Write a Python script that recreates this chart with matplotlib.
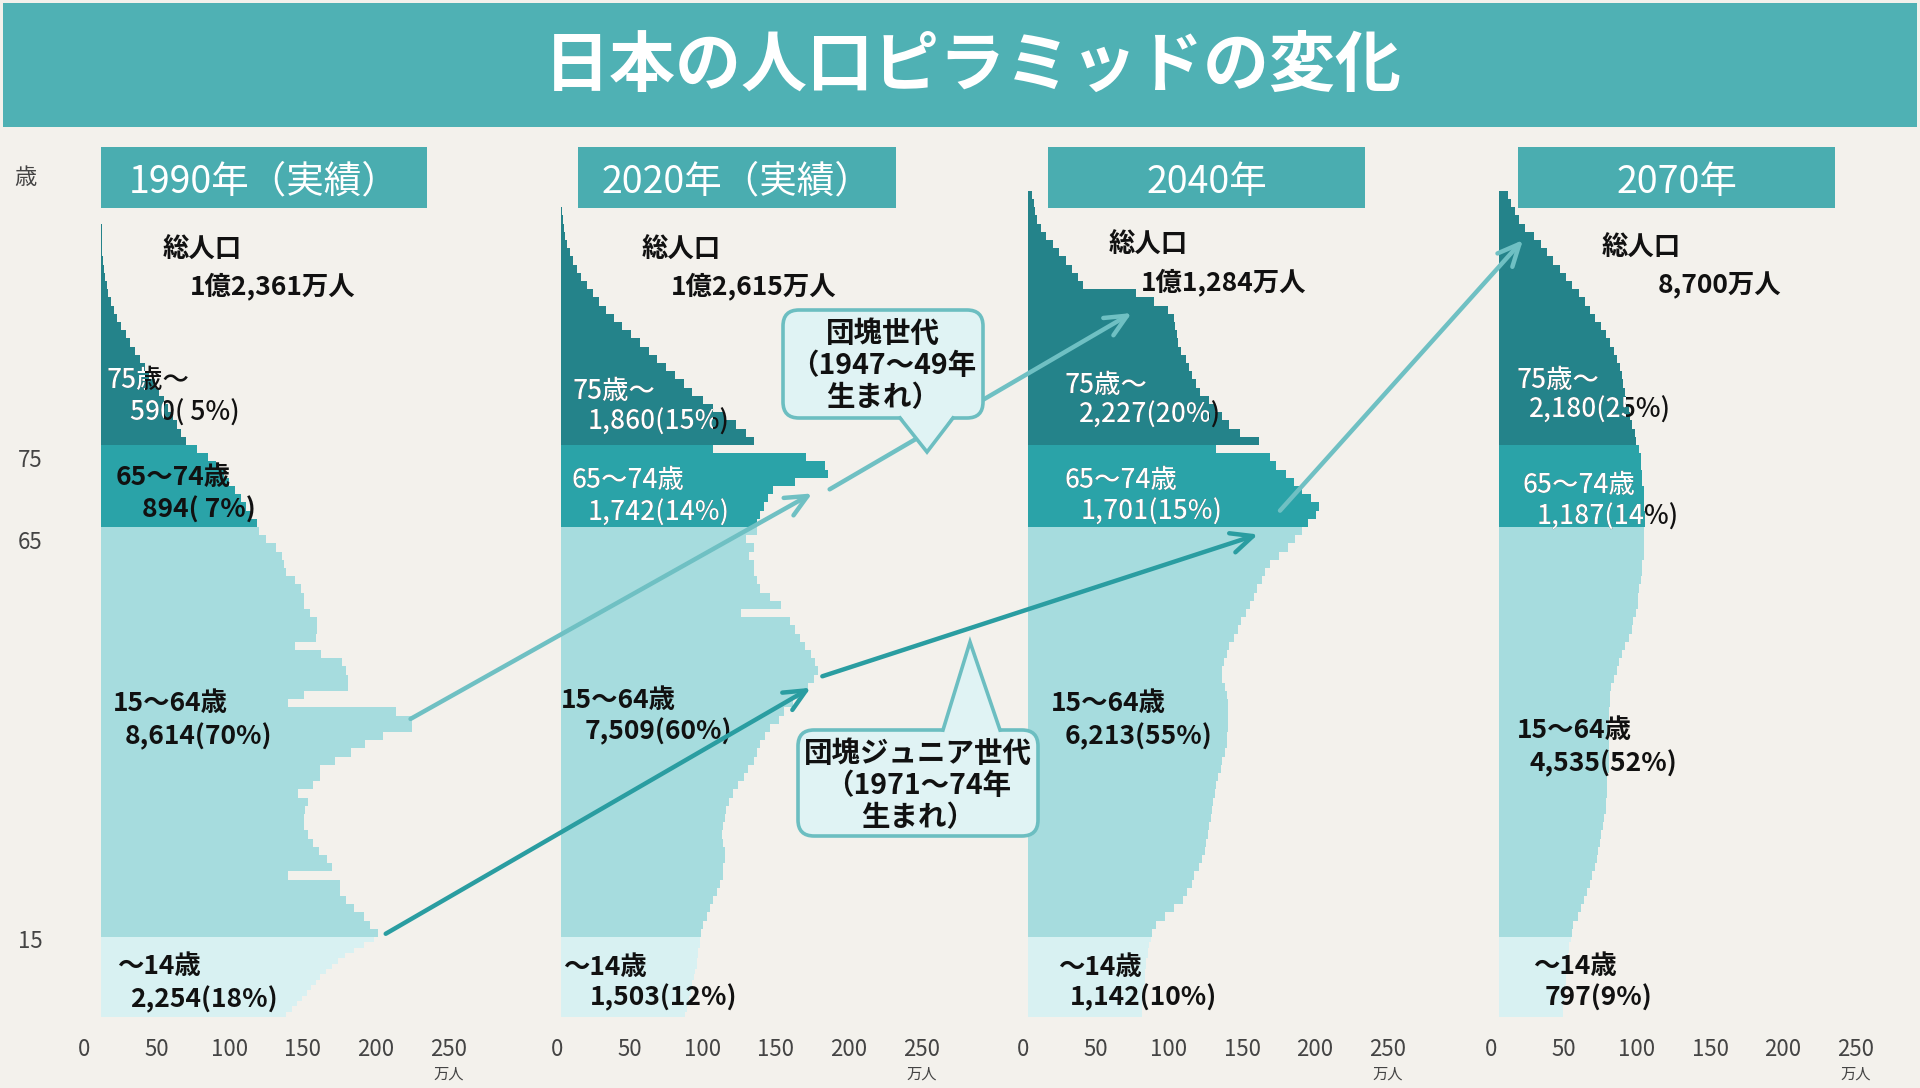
import numpy as np
import matplotlib
matplotlib.use('Agg')
import matplotlib.pyplot as plt
from matplotlib.patches import Rectangle, FancyBboxPatch, Polygon, ConnectionPatch
from matplotlib.transforms import Bbox, TransformedBbox, ScaledTranslation

plt.rcParams['font.family'] = ['Noto Sans CJK JP', 'DejaVu Sans']

# population by single year of age (万人), age 0 upward
pop_1990 = [127, 131, 134, 138, 141, 144, 147, 150, 154, 158, 162, 167, 173, 180, 187,
            190, 184, 180, 173, 168, 164, 164, 128, 158, 155,
            149, 145, 142, 139, 139, 140, 142, 135, 145, 150,
            150, 160, 171, 181, 193, 213, 213, 202, 128, 139,
            169, 169, 168, 165, 151, 133, 147, 148, 148, 143,
            139, 139, 137, 133, 127, 125, 124, 120, 113, 108,
            107, 103, 99, 96, 92, 88, 84, 79, 73, 66,
            58, 55, 52, 49, 46, 43, 40, 37, 33, 30, 27, 23, 20, 17, 14, 11, 9, 7, 5, 4,
            3, 2, 1.5, 1, 0.8, 0.6, 0.4]
pop_2020 = [85, 86, 87, 88, 89, 90, 90, 91, 92, 93, 93, 94, 94, 95, 95,
            96, 97, 100, 102, 104, 107, 109, 111, 111, 112,
            112, 111, 110, 111, 112, 113, 115, 118, 121, 125,
            128, 132, 134, 136, 140, 143, 149, 153, 159, 165,
            169, 173, 176, 174, 171, 167, 164, 160, 157, 123,
            151, 143, 136, 134, 132, 132, 129, 132, 127, 134,
            134, 136, 139, 142, 145, 160, 183, 181, 168, 104,
            132, 127, 120, 112, 104, 97, 90, 84, 78, 72, 66, 60, 54, 48, 42, 36, 31, 26, 22, 18,
            14, 11, 8, 6, 4, 3, 2, 1.5, 1]
pop_2040 = [78, 78, 78, 79, 79, 79, 80, 80, 80, 81, 81, 82, 82, 83, 84,
            85, 88, 94, 100, 106, 109, 112, 114, 117, 119,
            121, 122, 123, 124, 125, 126, 127, 128, 129, 130,
            132, 133, 135, 136, 136, 137, 137, 137, 137, 136,
            135, 133, 133, 134, 136, 138, 141, 144, 146, 149,
            152, 155, 157, 160, 162, 166, 172, 178, 183, 188,
            192, 197, 199, 194, 188, 182, 177, 170, 166, 129,
            158, 145, 138, 133, 128, 124, 118, 115, 112, 110, 108, 105, 103, 102, 101, 100,
            96, 86, 74, 38, 34, 30, 26, 21, 17, 12, 9, 6, 5, 4, 3]
pop_2070 = [44, 44, 44, 45, 45, 45, 46, 46, 46, 47, 47, 47, 48, 48, 49,
            50, 51, 54, 56, 58, 60, 62, 64, 66, 67,
            68, 69, 70, 71, 72, 73, 73, 74, 74, 74,
            75, 75, 75, 75, 75, 75, 75, 75, 76, 76,
            77, 79, 81, 82, 84, 86, 89, 91, 92, 94,
            95, 95, 96, 97, 98, 98, 99, 99, 99, 99,
            100, 100, 99, 99, 99, 98, 98, 97, 97, 96,
            94, 93, 91, 90, 89, 87, 86, 85, 84, 83, 81, 79, 76, 73, 70, 66, 62, 59, 55, 50,
            46, 42, 37, 33, 29, 24, 18, 14, 11, 8, 6]
populations = [pop_1990, pop_2020, pop_2040, pop_2070]

headers = ['1990年（実績）', '2020年（実績）', '2040年', '2070年']
totals = ['1億2,361万人', '1億2,615万人', '1億1,284万人', '8,700万人']
lbl_75 = ['590( 5%)', '1,860(15%)', '2,227(20%)', '2,180(25%)']
lbl_65 = ['894( 7%)', '1,742(14%)', '1,701(15%)', '1,187(14%)']
lbl_15 = ['8,614(70%)', '7,509(60%)', '6,213(55%)', '4,535(52%)']
lbl_0 = ['2,254(18%)', '1,503(12%)', '1,142(10%)', '797(9%)']
age_groups = ['75歳～', '65～74歳', '15～64歳', '～14歳']
x_ticks = [0, 50, 100, 150, 200, 250]
y_ticks = [15, 65, 75]

# colours
BG = '#F3F1EC'
BANNER = '#4FB1B4'
C75, C65, C15, C0 = '#24838A', '#2AA3A8', '#A6DCDE', '#D8F1F2'
ARROW_LIGHT, ARROW_DARK = '#6FC0C3', '#2A9DA1'
CALL_FILL, CALL_EDGE = '#E0F3F4', '#6CBEC1'

# layout (pixels)
W, H = 1920, 1088
base_px = [101, 561, 1028, 1499]
px_per_unit = 1.46
px_per_age = 8.2
bottom_px = 1017
XMAX, YMAX = 265, 107
tick_shift = [-17, -4, -5, -8]
ytick_shift = [-2, -13, -13]


def fwd(a):
    a = np.asarray(a, dtype=float)
    return np.where(a < 15, a * 0.65, a - 5.25)


def inv(t):
    t = np.asarray(t, dtype=float)
    return np.where(t < 9.75, t / 0.65, t + 5.25)


# text positions per panel: (x in 万人, age)
pos_total = [[(42, 98.8), (61, 94.3)], [(55, 98.8), (75, 94.3)],
             [(55, 99.4), (77, 94.8)], [(70, 99.0), (109, 94.5)]]
pos_75 = [[(4, 82.9), (20, 78.9)], [(8, 81.5), (18, 77.8)],
          [(25, 82.3), (34, 78.7)], [(12, 82.9), (20, 79.3)]]
pos_65 = [[(10, 71.0), (28, 67.1)], [(7.5, 70.7), (18, 66.7)],
          [(25, 70.7), (36, 66.8)], [(16, 70.1), (26, 66.2)]]
pos_15 = [[(8, 43.5), (16, 39.4)], [(0, 43.9), (16.5, 40.0)],
          [(16, 43.5), (25, 39.4)], [(12, 40.2), (21, 36.2)]]
pos_0 = [[(11, 9.4), (20, 3.2)], [(1.4, 9.2), (20, 3.6)],
         [(20.5, 9.2), (29, 3.6)], [(23, 9.4), (31.5, 3.6)]]

fig = plt.figure(figsize=(W / 100, H / 100), dpi=100, facecolor=BG)

axes = []
for i, vals in enumerate(populations):
    ax = fig.add_axes([base_px[i] / W, (H - bottom_px) / H,
                       XMAX * px_per_unit / W,
                       float(fwd(YMAX)) * px_per_age / H])
    ax.set_yscale('function', functions=(fwd, inv))
    ax.set_facecolor('none')
    ages = np.arange(len(vals))
    colors = [C75 if a >= 75 else C65 if a >= 65 else C15 if a >= 15 else C0 for a in ages]
    ax.barh(ages, vals, height=1.0, align='edge', color=colors, linewidth=0)
    ax.set_xlim(0, XMAX)
    ax.set_ylim(0, YMAX)
    for s in ax.spines.values():
        s.set_visible(False)
    ax.set_xticks(x_ticks)
    ax.set_xticklabels([str(t) for t in x_ticks])
    ax.tick_params(axis='x', length=0, pad=15, labelsize=16, labelcolor='#444444')
    shift = ScaledTranslation(tick_shift[i] / 100, 0, fig.dpi_scale_trans)
    for lab in ax.get_xticklabels():
        lab.set_transform(lab.get_transform() + shift)
    ax.annotate('万人', xy=(250, 0), xycoords=('data', 'axes fraction'),
                xytext=(tick_shift[i], -57), textcoords='offset pixels',
                ha='center', va='center', fontsize=11, color='#444444')
    if i == 0:
        ax.set_yticks(y_ticks)
        ax.set_yticklabels([str(t) for t in y_ticks])
        ax.tick_params(axis='y', length=0, pad=42, labelsize=16, labelcolor='#444444')
        for lab, dy in zip(ax.get_yticklabels(), ytick_shift):
            lab.set_transform(lab.get_transform() +
                              ScaledTranslation(0, dy / 100, fig.dpi_scale_trans))
    else:
        ax.set_yticks([])
    axes.append(ax)


def label(ax, vals, xy, s, dual=False):
    x, age = xy
    w = 'medium' if dual else 'bold'
    ax.text(x, age, s, fontsize=19, weight=w, color='#111111',
            ha='left', va='center', zorder=5)
    if dual:
        lo = max(int(age - 1.5), 0)
        hi = int(age + 1.5)
        edge = min(vals[lo:hi + 1])
        t = ax.text(x, age, s, fontsize=19, weight=w, color='white',
                    ha='left', va='center', zorder=6)
        t.set_clip_box(TransformedBbox(Bbox([[-50, 0], [edge, YMAX]]), ax.transData))
        t.set_clip_on(True)


for i, ax in enumerate(axes):
    vals = populations[i]
    label(ax, vals, pos_total[i][0], '総人口')
    label(ax, vals, pos_total[i][1], totals[i])
    label(ax, vals, pos_75[i][0], age_groups[0], dual=True)
    label(ax, vals, pos_75[i][1], lbl_75[i], dual=True)
    label(ax, vals, pos_65[i][0], age_groups[1], dual=(i > 0))
    label(ax, vals, pos_65[i][1], lbl_65[i], dual=(i > 0))
    label(ax, vals, pos_15[i][0], age_groups[2])
    label(ax, vals, pos_15[i][1], lbl_15[i])
    label(ax, vals, pos_0[i][0], age_groups[3])
    label(ax, vals, pos_0[i][1], lbl_0[i])

# cohort arrows between panels: (panel, (x, age)) -> (panel, (x, age))
arrows = [
    (0, (212, 41.6), 1, (172, 69.1), ARROW_LIGHT),
    (1, (184, 69.6), 2, (71, 91.1), ARROW_LIGHT),
    (0, (195, 15.4), 1, (171, 45.4), ARROW_DARK),
    (1, (179, 46.8), 2, (157.5, 64.1), ARROW_DARK),
    (2, (172.6, 67.0), 3, (16.4, 100.0), ARROW_LIGHT),
]
for pa, xya, pb, xyb, col in arrows:
    con = ConnectionPatch(xyA=xya, coordsA='data', axesA=axes[pa],
                          xyB=xyb, coordsB='data', axesB=axes[pb],
                          arrowstyle='->,head_length=1.3,head_width=0.6',
                          mutation_scale=12, lw=3.2, color=col,
                          shrinkA=0, shrinkB=0, zorder=2)
    fig.add_artist(con)

# overlay for banner, headers and callouts (pixel coordinates)
ov = fig.add_axes([0, 0, 1, 1], zorder=3)
ov.set_xlim(0, W)
ov.set_ylim(H, 0)
ov.axis('off')
ov.patch.set_alpha(0)

ov.add_patch(Rectangle((3, 3), W - 6, 124, color=BANNER, lw=0))
ov.text(973, 66, '日本の人口ピラミッドの変化', fontsize=47.5, weight='bold',
        color='white', ha='center', va='center')
ov.text(25, 178, '歳', fontsize=16, color='#444444', ha='center', va='center')

header_boxes = [(101, 326), (578, 318), (1048, 317), (1518, 317)]
for (hx, hw), txt in zip(header_boxes, headers):
    ov.add_patch(Rectangle((hx, 147), hw, 61, color='#4AADB0', lw=0))
    ov.text(hx + hw / 2, 182, txt, fontsize=27, color='white',
            ha='center', va='center')


def callout(x0, y0, x1, y1, bx0, bx1, tip, lines, line_y):
    ov.add_patch(FancyBboxPatch((x0, y0), x1 - x0, y1 - y0,
                                boxstyle='round,pad=0,rounding_size=16',
                                fc=CALL_FILL, ec=CALL_EDGE, lw=2.6, zorder=1))
    by = y1 if tip[1] > y1 else y0
    inset = -3 if tip[1] > y1 else 3
    ov.add_patch(Polygon([(bx0, by + inset), (tip[0], tip[1]), (bx1, by + inset)],
                         closed=True, fc=CALL_FILL, ec='none', zorder=2))
    ov.plot([bx0, tip[0], bx1], [by, tip[1], by], color=CALL_EDGE, lw=2.6,
            solid_joinstyle='miter', zorder=3)
    cx = (x0 + x1) / 2
    for s, ly in zip(lines, line_y):
        ov.text(cx, ly, s, fontsize=20.5, weight='bold', color='#111111',
                ha='center', va='center', zorder=4)


callout(783, 310, 983, 418, 900, 953, (927, 452),
        ['団塊世代', '（1947～49年', '生まれ）'], [334, 366, 398])
callout(798, 730, 1038, 836, 943, 1000, (970, 642),
        ['団塊ジュニア世代', '（1971～74年', '生まれ）'], [754, 786, 818])

fig.savefig('out.png', dpi=100, facecolor=BG)
